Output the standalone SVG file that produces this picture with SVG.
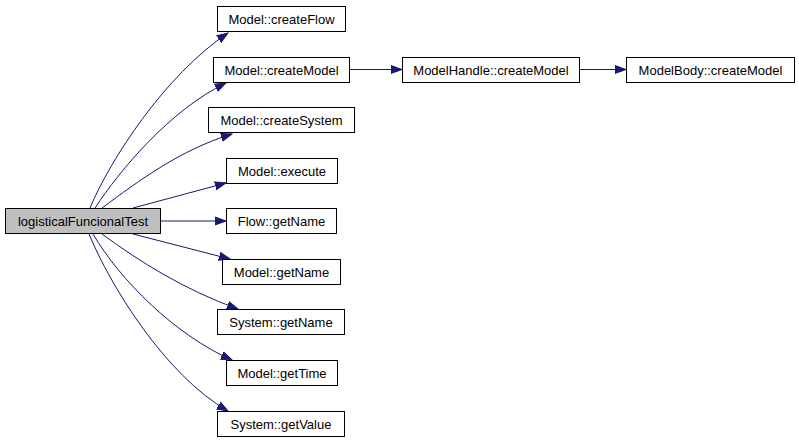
<svg xmlns="http://www.w3.org/2000/svg" width="799" height="443" viewBox="0 0 799 443">
<style>
.n rect{fill:#fff;stroke:#000;stroke-width:1}
.n text{font-family:"Liberation Sans",Arial,sans-serif;font-size:13px;text-anchor:middle;fill:#000}
.e path{fill:none;stroke:#191970;stroke-width:1;marker-end:url(#ah)}
</style>
<defs>
<marker id="ah" markerUnits="userSpaceOnUse" markerWidth="12" markerHeight="10" refX="11" refY="4" orient="auto" viewBox="0 0 12 8">
<path d="M0,0 L11,4 L0,8 Z" fill="#191970" stroke="#191970" stroke-width="1"/>
</marker>
</defs>
<rect width="799" height="443" fill="#fff"/>
<g class="e">
<path d="M90,208 C110,160 165,75 228,33"/>
<path d="M95,208 C120,170 170,110 226,83"/>
<path d="M102,208 C140,180 180,150 232,134"/>
<path d="M133,208 L226,183"/>
<path d="M160,221 L226,221"/>
<path d="M133,234 L230,259"/>
<path d="M102,234 C140,262 185,290 238,309"/>
<path d="M93,234 C120,280 175,335 232,360"/>
<path d="M89,234 C110,285 165,375 228,411"/>
<path d="M349,69.5 L402,69.5"/>
<path d="M579,69.5 L626,69.5"/>
</g>
<g id="logisticalFuncionalTest" class="n"><rect x="5.5" y="208.5" width="155" height="25" style="fill:#bfbfbf"/><text x="83" y="225.5">logisticalFuncionalTest</text></g>
<g id="createFlow" class="n"><rect x="217.5" y="6.5" width="128" height="25"/><text x="281.5" y="23.5">Model::createFlow</text></g>
<g id="createModel" class="n"><rect x="213.5" y="57.5" width="136" height="25"/><text x="281.5" y="74.5">Model::createModel</text></g>
<g id="createSystem" class="n"><rect x="208.5" y="107.5" width="146" height="25"/><text x="281.5" y="124.5">Model::createSystem</text></g>
<g id="execute" class="n"><rect x="226.5" y="158.5" width="111" height="25"/><text x="282" y="175.5">Model::execute</text></g>
<g id="flowGetName" class="n"><rect x="226.5" y="208.5" width="110" height="25"/><text x="281.5" y="225.5">Flow::getName</text></g>
<g id="modelGetName" class="n"><rect x="222.5" y="259.5" width="118" height="25"/><text x="281.5" y="276.5">Model::getName</text></g>
<g id="systemGetName" class="n"><rect x="217.5" y="309.5" width="127" height="25"/><text x="281" y="326.5">System::getName</text></g>
<g id="getTime" class="n"><rect x="226.5" y="360.5" width="111" height="25"/><text x="282" y="377.5">Model::getTime</text></g>
<g id="getValue" class="n"><rect x="217.5" y="411.5" width="127" height="25"/><text x="281" y="428.5">System::getValue</text></g>
<g id="modelHandleCreateModel" class="n"><rect x="402.5" y="57.5" width="177" height="25"/><text x="491" y="74.5">ModelHandle::createModel</text></g>
<g id="modelBodyCreateModel" class="n"><rect x="626.5" y="57.5" width="168" height="25"/><text x="710.5" y="74.5">ModelBody::createModel</text></g>
</svg>
